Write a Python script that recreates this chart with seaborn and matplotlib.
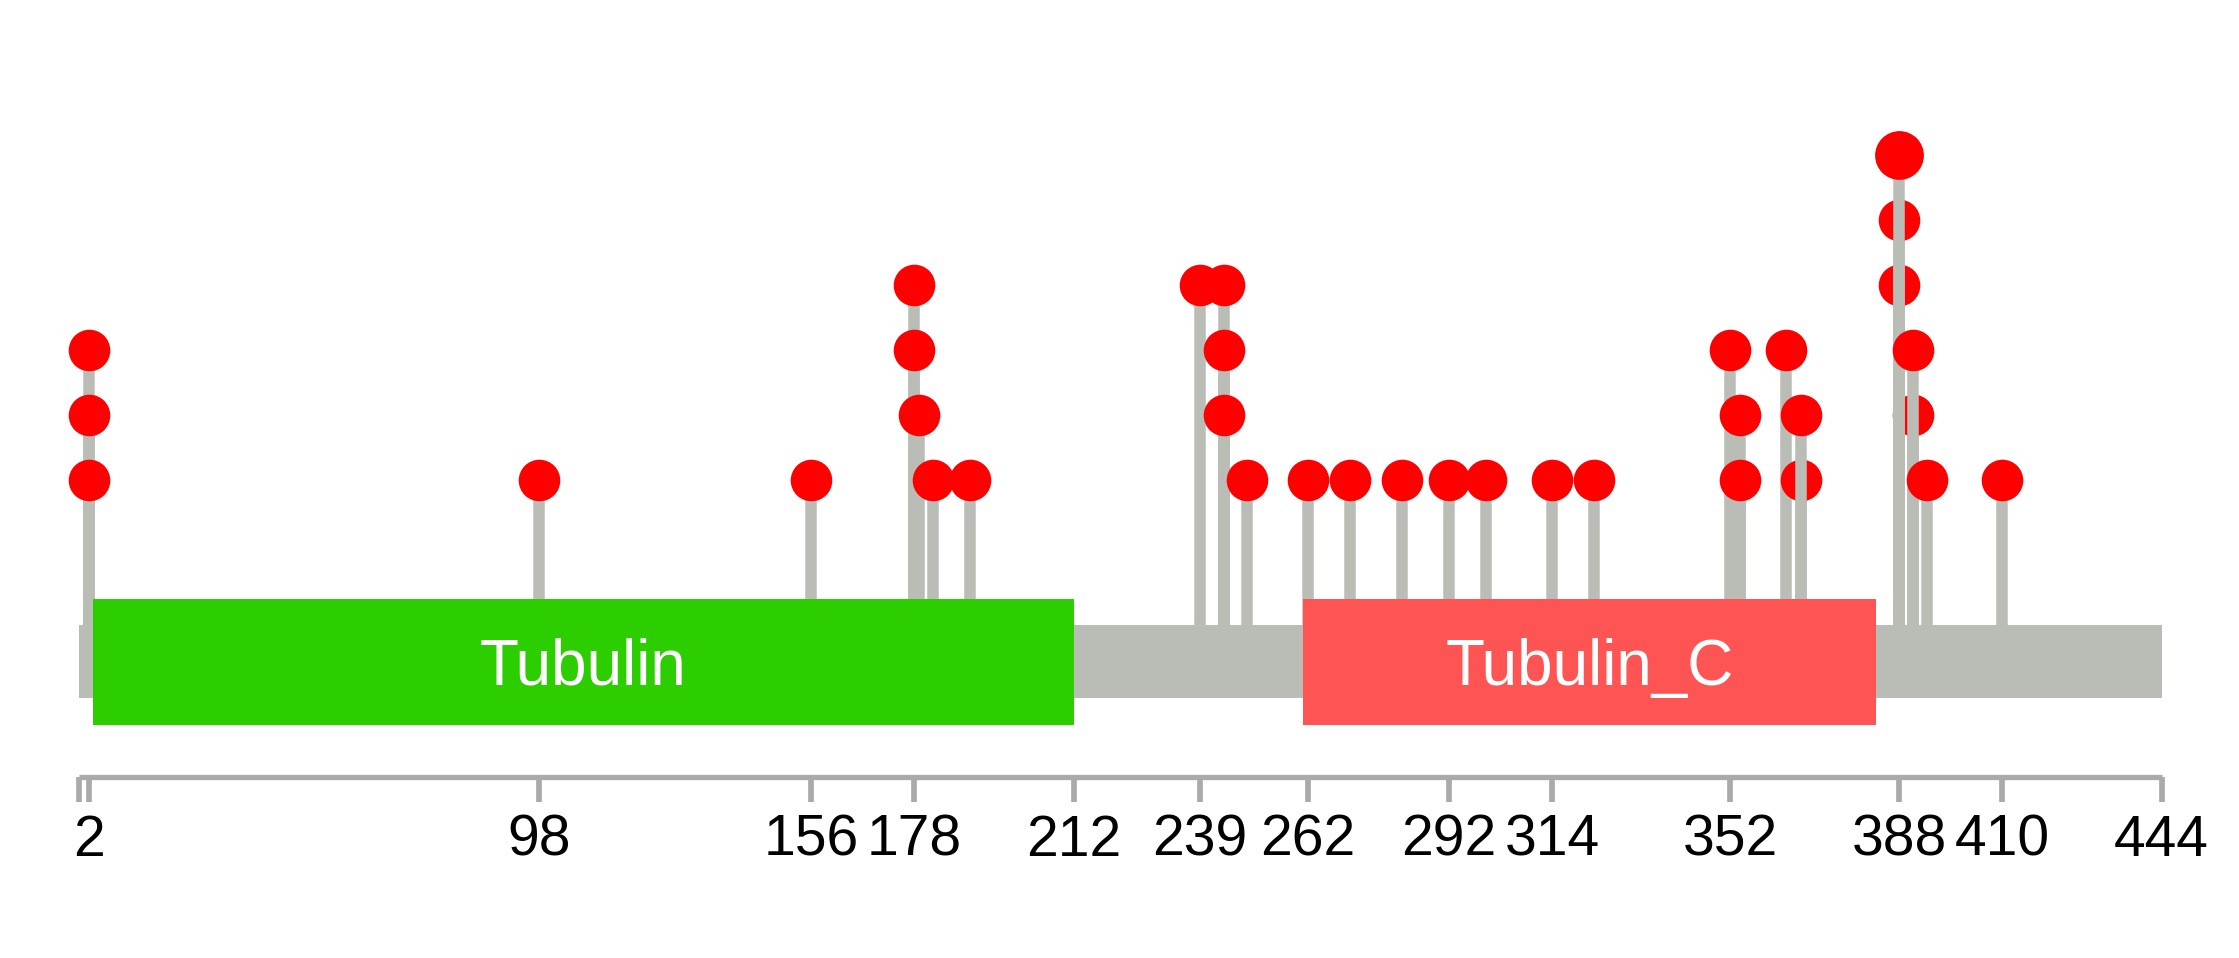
import matplotlib
matplotlib.use("Agg")
import matplotlib.pyplot as plt
from matplotlib.patches import Rectangle
import pandas as pd
import seaborn as sns

protein_length = 444

# one entry per mutation, in the order they are drawn (stem, then dot)
mut_pos = [2, 2, 2, 98, 156, 178, 178, 179, 182, 190,
           239, 244, 244, 244, 249, 262, 271, 282, 292, 300, 314, 323,
           352, 354, 354, 364, 367, 367,
           391, 388, 388, 388, 391, 394, 410]
mut_level = [3, 2, 1, 1, 1, 4, 3, 2, 1, 1,
             4, 4, 3, 2, 1, 1, 1, 1, 1, 1, 1, 1,
             3, 2, 1, 3, 1, 2,
             2, 4, 5, 6, 3, 1, 1]
mut_count = [1, 1, 1, 1, 1, 1, 1, 1, 1, 1,
             1, 1, 1, 1, 1, 1, 1, 1, 1, 1, 1, 1,
             1, 1, 1, 1, 1, 1,
             1, 1, 1, 2, 1, 1, 1]

domain_names = ["Tubulin", "Tubulin_C"]
domain_start = [3, 261]
domain_end = [212, 383]

tick_pos = [0, 2, 98, 156, 178, 212, 239, 262, 292, 314, 352, 388, 410, 444]
tick_labels = ["", "2", "98", "156", "178", "212", "239", "262", "292",
               "314", "352", "388", "410", "444"]

GREY = "#BABDB6"
DOT = "#FF0000"
AXIS = "#AAAAAA"
DOMAIN_COLORS = ["#2DCE00", "#FF5454"]

plt.rcParams["font.family"] = ["Liberation Sans", "DejaVu Sans"]

df = pd.DataFrame({"pos": mut_pos, "level": mut_level, "count": mut_count})

fig = plt.figure(figsize=(22.39, 9.58), dpi=100)
ax = fig.add_axes([0, 0, 1, 1])
ax.set_xlim(-16.91, 460.49)
ax.set_ylim(-6.354, 8.385)
ax.axis("off")

# protein backbone
ax.add_patch(Rectangle((0, -2.358), protein_length, 1.123, color=GREY, lw=0, zorder=1))

# lollipops
for i, row in df.iterrows():
    ax.plot([row["pos"], row["pos"]], [-1.3, row["level"]], color=GREY, lw=8.3,
            solid_capstyle="butt", zorder=10 + 2 * i)
    sns.scatterplot(x=[row["pos"]], y=[row["level"]], ax=ax, color=DOT,
                    s=897 if row["count"] == 1 else 1234, linewidth=0,
                    legend=False, zorder=11 + 2 * i)

# domains
for name, s, e, c in zip(domain_names, domain_start, domain_end, DOMAIN_COLORS):
    ax.add_patch(Rectangle((s, -2.762), e - s, 1.927, color=c, lw=0, zorder=200))
    ax.text((s + e) / 2, -2.15, name, color="white", fontsize=46,
            ha="center", va="baseline", zorder=201)

# position axis
ax.plot([0, protein_length], [-3.565, -3.565], color=AXIS, lw=3.8,
        solid_capstyle="butt", zorder=5)
ax.vlines(tick_pos, -3.96, -3.565, color=AXIS, lw=4.1, zorder=5)
for p, lab in zip(tick_pos, tick_labels):
    ax.text(p, -4.78, lab, fontsize=41, ha="center", va="baseline", color="black")

fig.savefig("out.png", dpi=100)
